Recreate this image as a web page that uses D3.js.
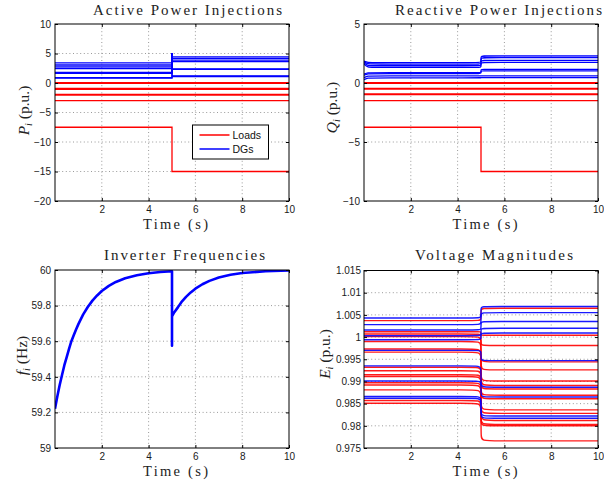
<!DOCTYPE html>
<html><head><meta charset="utf-8">
<script src="https://cdn.jsdelivr.net/npm/d3@7"></script>
<style>body{margin:0;background:#fff}</style>
</head><body>
<svg id="c" width="604" height="485"></svg>
<script>
// ---------------- DATA ----------------
const timeDomain = [0, 10];
const xTicks = [2, 4, 6, 8, 10];
const stepTime = 5;

// Active power injections (p.u.)
const pTicks = [-20, -15, -10, -5, 0, 5, 10];
const loadP_before = [0.07, -0.07, -0.93, -1.07, -1.93, -2.07, -3.0, -7.5];
const loadP_after  = [0.07, -0.07, -0.93, -1.07, -1.93, -2.07, -3.0, -15.0];
const dgP_before = [3.42, 3.05, 2.75, 2.46, 1.80, 1.62, 0.92, 0.82];
const dgP_after  = [4.44, 4.16, 3.88, 3.62, 2.40, 2.30, 1.20, 1.10];
const dgP_peak = 5.05;

// Reactive power injections (p.u.)
const qTicks = [-10, -5, 0, 5];
const loadQ_before = [0.03, -0.03, -0.45, -0.51, -0.93, -0.99, -1.5, -3.75];
const loadQ_after  = [0.03, -0.03, -0.45, -0.51, -0.93, -0.99, -1.5, -7.5];
const dgQ_start  = [1.85, 1.80, 1.72, 1.62, 0.75, 0.65, 0.45, 0.28];
const dgQ_before = [1.73, 1.60, 1.46, 1.32, 0.88, 0.80, 0.60, 0.44];
const dgQ_after  = [2.30, 2.16, 1.92, 1.74, 1.16, 1.03, 0.60, 0.46];
const qKnots = [0, 0.15, 0.45, 4.96, 5, 5, 5.06, 10];

// Inverter frequencies (Hz)
const fTicks = [59, 59.2, 59.4, 59.6, 59.8, 60];
const freqT = [0, 0.1, 0.2, 0.3, 0.4, 0.5, 0.6, 0.7, 0.8, 0.9, 1.0, 1.2, 1.4, 1.6, 1.8, 2.0, 2.3, 2.6, 3.0, 3.5, 4.0, 4.5, 5.0, 5.0, 5.0, 5.1, 5.25, 5.4, 5.6, 5.8, 6.0, 6.3, 6.6, 7.0, 7.5, 8.0, 9.0, 10];
const freqV = [59.22, 59.29, 59.354, 59.41, 59.465, 59.51, 59.557, 59.60, 59.633, 59.666, 59.696, 59.749, 59.792, 59.828, 59.857, 59.882, 59.911, 59.933, 59.954, 59.971, 59.982, 59.989, 59.993, 59.575, 59.74, 59.763, 59.79, 59.819, 59.849, 59.874, 59.895, 59.92, 59.939, 59.958, 59.973, 59.983, 59.993, 59.998];

// Voltage magnitudes (p.u.)
const eTicks = [0.975, 0.98, 0.985, 0.99, 0.995, 1, 1.005, 1.01, 1.015];
const eTickLabels = ["0.975", "0.98", "0.985", "0.99", "0.995", "1", "1.005", "1.01", "1.015"];
const loadE_before = [1.0037, 1.0012, 1.0007, 1.0001, 0.9990, 0.9973, 0.9966, 0.9932, 0.9924, 0.9915, 0.9911, 0.9897, 0.9892, 0.9881, 0.9857, 0.9851];
const loadE_after  = [1.0065, 1.0004, 0.9981, 0.9944, 0.9926, 0.9901, 0.9891, 0.9883, 0.9869, 0.9861, 0.9836, 0.9828, 0.9812, 0.9803, 0.9800, 0.9766];
const dgE_before = [1.0043, 1.0028, 1.0016, 1.0003, 0.9994, 0.9970, 0.9935, 0.9901, 0.9866, 0.9862];
const dgE_after  = [1.0069, 1.0055, 1.0035, 1.0020, 1.0009, 0.9947, 0.9887, 0.9865, 0.9822, 0.9817];
const eKnots = [0, 4.95, 5, 5, 5.05, 10];

const legendLabels = ["Loads", "DGs"];

// ---------------- STYLE ----------------
const RED = "#ff0000", BLUE = "#0000ff";
const serif = "'Liberation Serif', 'DejaVu Serif', serif";
const sans = "'Liberation Sans', Arial, sans-serif";
const svg = d3.select("#c");

function makePanel(o) {
  const x = d3.scaleLinear().domain(timeDomain).range([o.left, o.right]);
  const y = d3.scaleLinear().domain(o.yDomain).range([o.bottom, o.top]);
  const g = svg.append("g");
  const innerX = xTicks.filter(t => t > timeDomain[0] && t < timeDomain[1]);
  const innerY = o.yTicks.filter(t => t > o.yDomain[0] && t < o.yDomain[1]);
  g.selectAll(".gx").data(innerX).join("line")
    .attr("x1", d => x(d)).attr("x2", d => x(d)).attr("y1", o.top).attr("y2", o.bottom)
    .attr("stroke", "#808080").attr("stroke-width", 0.8).attr("stroke-dasharray", "1,2.6");
  g.selectAll(".gy").data(innerY).join("line")
    .attr("y1", d => y(d)).attr("y2", d => y(d)).attr("x1", o.left).attr("x2", o.right)
    .attr("stroke", "#808080").attr("stroke-width", 0.8).attr("stroke-dasharray", "1,2.6");

  const cid = "clip" + o.id;
  svg.append("clipPath").attr("id", cid).append("rect")
    .attr("x", o.left).attr("y", o.top).attr("width", o.right - o.left).attr("height", o.bottom - o.top);
  const dg = g.append("g").attr("clip-path", `url(#${cid})`);
  o.draw(dg, x, y);

  // axes
  const fmt = o.yFormat || (d => d3.format("")(d));
  const ax = g.append("g").attr("transform", `translate(0,${o.bottom})`)
    .call(d3.axisBottom(x).tickValues(xTicks).tickSizeInner(-3).tickSizeOuter(0).tickPadding(5));
  const ay = g.append("g").attr("transform", `translate(${o.left},0)`)
    .call(d3.axisLeft(y).tickValues(o.yTicks).tickFormat(fmt).tickSizeInner(-3).tickSizeOuter(0).tickPadding(o.ypad));
  const at = g.append("g").attr("transform", `translate(0,${o.top})`)
    .call(d3.axisTop(x).tickValues(xTicks).tickFormat("").tickSizeInner(-3).tickSizeOuter(0));
  const ar = g.append("g").attr("transform", `translate(${o.right},0)`)
    .call(d3.axisRight(y).tickValues(o.yTicks).tickFormat("").tickSizeInner(-3).tickSizeOuter(0));
  [ax, ay, at, ar].forEach(a => {
    a.select(".domain").remove();
    a.selectAll("line").attr("stroke", "#000");
    a.selectAll("text").attr("font-family", sans).attr("font-size", 10).attr("fill", "#1a1a1a");
  });
  g.append("rect").attr("x", o.left).attr("y", o.top)
    .attr("width", o.right - o.left).attr("height", o.bottom - o.top)
    .attr("fill", "none").attr("stroke", "#000").attr("stroke-width", 1);

  // title
  g.append("text").attr("x", o.titleX).attr("y", o.titleY).attr("text-anchor", "middle")
    .attr("font-family", serif).attr("font-size", 15).attr("fill", "#222")
    .attr("textLength", o.titleLen).attr("lengthAdjust", "spacing").text(o.title);
  // x label
  g.append("text").attr("x", o.xlabX).attr("y", o.xlabY).attr("text-anchor", "middle")
    .attr("font-family", serif).attr("font-size", 14.5).attr("fill", "#222")
    .attr("textLength", 65).attr("lengthAdjust", "spacing").text("Time (s)");
  // y label
  const yl = g.append("text").attr("transform", `translate(${o.ylabX},${o.ylabY}) rotate(-90)`)
    .attr("text-anchor", "middle").attr("font-family", serif).attr("font-size", 15.5).attr("fill", "#222");
  yl.append("tspan").attr("font-style", "italic").text(o.ySym);
  yl.append("tspan").attr("font-style", "italic").attr("font-size", 10).attr("dy", 3).text("i");
  yl.append("tspan").attr("dy", -3).text("\u00a0" + o.yUnit);
  return {x, y, g};
}

const lineLin = (x, y) => d3.line().x(d => x(d[0])).y(d => y(d[1]));

// ---- Panel 1: active power ----
const p1 = makePanel({
  id: 1, left: 55, right: 289, top: 24, bottom: 201, yDomain: [-20, 10], yTicks: pTicks, ypad: 4,
  title: "Active Power Injections", titleX: 187.5, titleY: 15, titleLen: 189,
  xlabX: 175.5, xlabY: 229, ylabX: 28.5, ylabY: 110.5, ySym: "P", yUnit: "(p.u.)",
  draw: (g, x, y) => {
    const ln = lineLin(x, y);
    loadP_before.forEach((b, i) => {
      const a = loadP_after[i];
      g.append("path").attr("d", ln([[0, b], [stepTime, b], [stepTime, a], [10, a]]))
        .attr("fill", "none").attr("stroke", RED).attr("stroke-width", 1.3);
    });
    dgP_before.forEach((b, i) => {
      const a = dgP_after[i];
      g.append("path").attr("d", ln([[0, b], [stepTime, b], [stepTime, dgP_peak], [stepTime, a], [10, a]]))
        .attr("fill", "none").attr("stroke", BLUE).attr("stroke-width", 1.3);
    });
  }
});
// legend
{
  const L = p1.g.append("g").attr("transform", "translate(192.5,125)");
  L.append("rect").attr("width", 76).attr("height", 34).attr("fill", "#fff").attr("stroke", "#000").attr("stroke-width", 1);
  [RED, BLUE].forEach((c, i) => {
    L.append("line").attr("x1", 7).attr("x2", 37).attr("y1", 10 + i * 14).attr("y2", 10 + i * 14)
      .attr("stroke", c).attr("stroke-width", 1.5);
    L.append("text").attr("x", 40).attr("y", 13.8 + i * 14).attr("font-family", sans).attr("font-size", 10.5)
      .attr("fill", "#111").text(legendLabels[i]);
  });
}

// ---- Panel 2: reactive power ----
makePanel({
  id: 2, left: 364, right: 598, top: 24, bottom: 201, yDomain: [-10, 5], yTicks: qTicks, ypad: 4,
  title: "Reactive Power Injections", titleX: 498.5, titleY: 15, titleLen: 207,
  xlabX: 485, xlabY: 229, ylabX: 337, ylabY: 107.5, ySym: "Q", yUnit: "(p.u.)",
  draw: (g, x, y) => {
    const ln = lineLin(x, y);
    const lb = lineLin(x, y).curve(d3.curveBasis);
    loadQ_before.forEach((b, i) => {
      const a = loadQ_after[i];
      g.append("path").attr("d", ln([[0, b], [stepTime, b], [stepTime, a], [10, a]]))
        .attr("fill", "none").attr("stroke", RED).attr("stroke-width", 1.3);
    });
    dgQ_before.forEach((b, i) => {
      const a = dgQ_after[i], s = dgQ_start[i];
      const vals = [s, b, b, b, b, a, a, a];
      g.append("path").attr("d", lb(qKnots.map((t, k) => [t, vals[k]])))
        .attr("fill", "none").attr("stroke", BLUE).attr("stroke-width", 1.3);
    });
  }
});

// ---- Panel 3: frequencies ----
makePanel({
  id: 3, left: 55, right: 289, top: 270, bottom: 448, yDomain: [59, 60], yTicks: fTicks, ypad: 4,
  yFormat: d => String(d),
  title: "Inverter Frequencies", titleX: 184.5, titleY: 260, titleLen: 161,
  xlabX: 175.5, xlabY: 476, ylabX: 26.5, ylabY: 355.5, ySym: "f", yUnit: "(Hz)",
  draw: (g, x, y) => {
    g.append("path").attr("d", lineLin(x, y)(freqT.map((t, i) => [t, freqV[i]])))
      .attr("fill", "none").attr("stroke", BLUE).attr("stroke-width", 2.6).attr("stroke-linejoin", "round");
  }
});

// ---- Panel 4: voltages ----
makePanel({
  id: 4, left: 364, right: 598, top: 270.5, bottom: 448, yDomain: [0.975, 1.015], yTicks: eTicks, ypad: 3,
  yFormat: d => eTickLabels[eTicks.indexOf(d)],
  title: "Voltage Magnitudes", titleX: 494, titleY: 260, titleLen: 158,
  xlabX: 485, xlabY: 476, ylabX: 330, ylabY: 354, ySym: "E", yUnit: "(p.u.)",
  draw: (g, x, y) => {
    const lb = lineLin(x, y).curve(d3.curveBasis);
    loadE_before.forEach((b, i) => {
      const a = loadE_after[i];
      const vals = [b, b, b, a, a, a];
      g.append("path").attr("d", lb(eKnots.map((t, k) => [t, vals[k]])))
        .attr("fill", "none").attr("stroke", RED).attr("stroke-width", 1.4).attr("stroke-opacity", 0.9);
    });
    dgE_before.forEach((b, i) => {
      const a = dgE_after[i];
      const vals = [b, b, b, a, a, a];
      g.append("path").attr("d", lb(eKnots.map((t, k) => [t, vals[k]])))
        .attr("fill", "none").attr("stroke", BLUE).attr("stroke-width", 1.4).attr("stroke-opacity", 0.9);
    });
  }
});
</script>
</body></html>
